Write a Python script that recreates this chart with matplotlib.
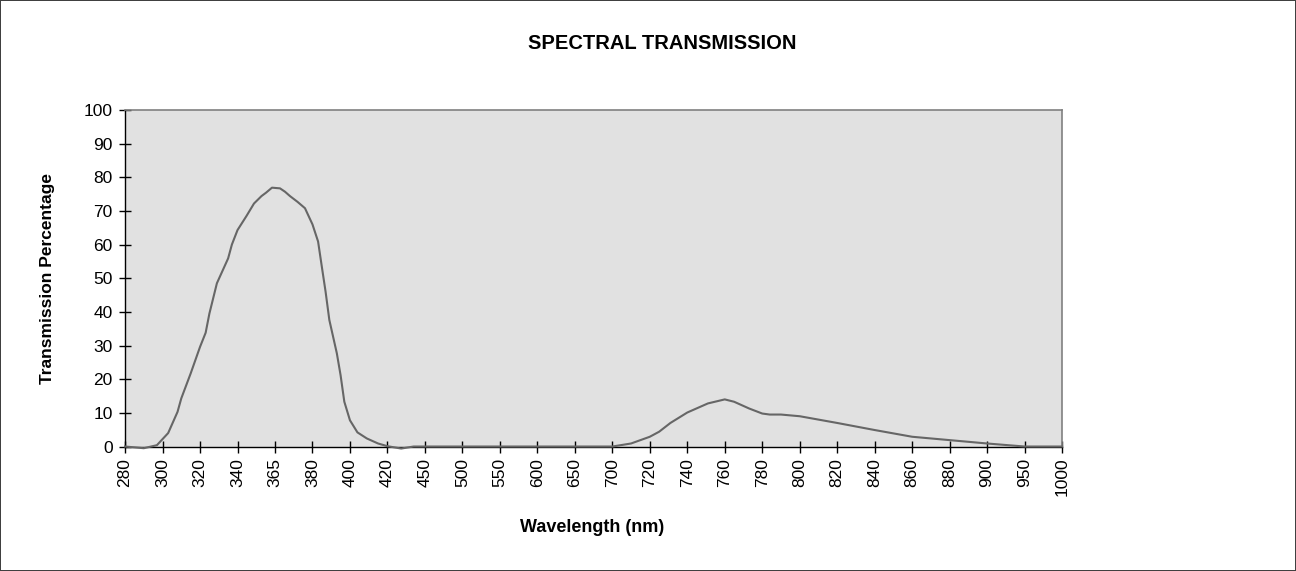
import numpy as np
import matplotlib
matplotlib.use("Agg")
import matplotlib.pyplot as plt

plt.rcParams['font.family'] = ['Liberation Sans', 'DejaVu Sans']

# category tick labels (equally spaced on the axis, as in the original sheet)
tick_wl = [280, 300, 320, 340, 365, 380, 400, 420, 450, 500, 550, 600, 650,
           700, 720, 740, 760, 780, 800, 820, 840, 860, 880, 900, 950, 1000]

# curve
wavelength = [280, 290, 297, 303, 308, 310, 315, 320, 323, 325, 329, 335, 337,
              340, 346, 351, 356, 359, 363, 367, 369, 371, 374, 377, 380, 383,
              385, 387, 389, 393, 395, 397, 400, 404, 409, 415, 420, 431, 441,
              450, 500, 550, 600, 650, 700, 710, 720, 725, 731, 740, 751, 760,
              765, 773, 780, 784, 790, 800, 820, 840, 860, 880, 900, 950, 1000]
transmission = [0, -0.5, 0.4, 4.0, 10.3, 14.3, 21.7, 29.6, 33.8, 39.5, 48.5,
                55.9, 60.0, 64.3, 68.5, 72.2, 74.4, 75.4, 76.9, 76.7, 75.7,
                74.4, 72.7, 70.8, 66.0, 60.9, 53.4, 46.0, 37.6, 27.7, 21.2,
                13.3, 7.8, 4.2, 2.4, 0.9, 0.1, -0.6, 0, 0, 0, 0, 0, 0, 0, 0.9,
                2.9, 4.4, 7.0, 10.1, 12.8, 14.0, 13.3, 11.3, 9.8, 9.5, 9.5, 9.0,
                7.0, 4.9, 2.9, 1.9, 0.9, 0, 0]

idx = np.arange(len(tick_wl))


def fwd(x):
    return np.interp(x, tick_wl, idx)


def inv(x):
    return np.interp(x, idx, tick_wl)


fig = plt.figure(figsize=(12.96, 5.71), dpi=100)
fig.patch.set_edgecolor('#404040')
fig.patch.set_linewidth(1.2)

ax = fig.add_axes([0.0965, 0.218, 0.723, 0.5895])
ax.set_facecolor('#e1e1e1')
ax.set_xscale('function', functions=(fwd, inv))
ax.plot(wavelength, transmission, color='#666666', lw=1.5, clip_on=False, zorder=3)

ax.set_xlim(280, 1000)
ax.set_ylim(0, 100)
ax.set_xticks(tick_wl)
ax.set_xticklabels([str(w) for w in tick_wl], rotation=90)
ax.xaxis.set_minor_locator(matplotlib.ticker.NullLocator())
ax.set_yticks(range(0, 101, 10))
ax.tick_params(direction='inout', length=8, width=1, labelsize=12.5, colors='black')
ax.tick_params(axis='y', pad=5)
ax.tick_params(axis='x', pad=4)

for s in ('top', 'right'):
    ax.spines[s].set_color('#808080')
    ax.spines[s].set_linewidth(1.2)
for s in ('left', 'bottom'):
    ax.spines[s].set_color('black')
    ax.spines[s].set_linewidth(1)

fig.text(0.511, 0.923, 'SPECTRAL TRANSMISSION', ha='center', va='center',
         fontsize=14.5, fontweight='bold')
fig.text(0.037, 0.513, 'Transmission Percentage', ha='center', va='center',
         rotation=90, fontsize=12.5, fontweight='bold')
fig.text(0.457, 0.077, 'Wavelength (nm)', ha='center', va='center',
         fontsize=13, fontweight='bold')

fig.savefig('out.png', dpi=100)
